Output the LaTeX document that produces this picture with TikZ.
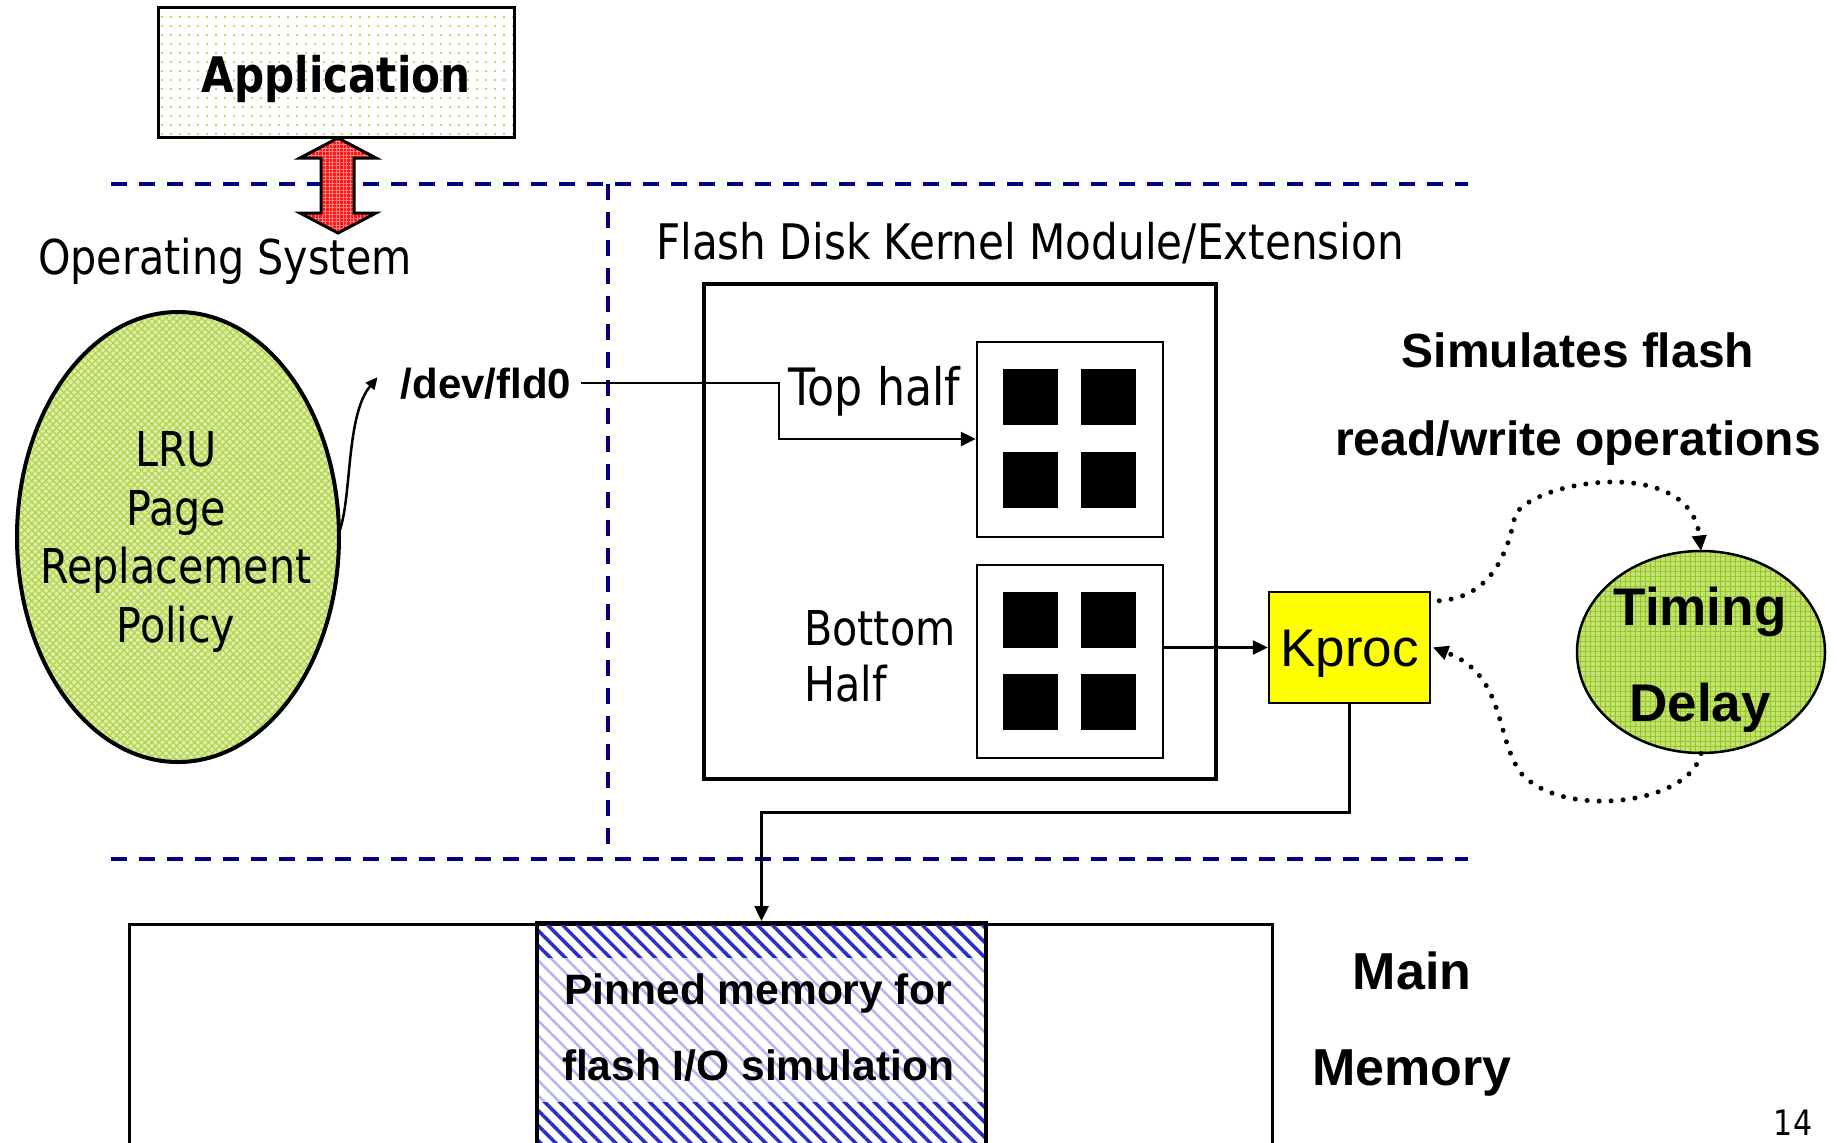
\documentclass[tikz,border=0pt]{standalone}
\usepackage{fontspec}
\usetikzlibrary{arrows.meta,patterns.meta,shapes.geometric}
\newfontfamily\tahfont{DejaVu Sans}[FakeStretch=0.86]
\newfontfamily\arifont{Liberation Sans}

\definecolor{sepblue}{RGB}{0,0,128}
\definecolor{appdot}{RGB}{165,208,55}
\definecolor{lrubase}{RGB}{222,238,168}
\definecolor{lruline}{RGB}{176,212,78}
\definecolor{tdbase}{RGB}{196,226,115}
\definecolor{tdline}{RGB}{148,198,35}
\definecolor{kpyellow}{RGB}{255,255,0}
\definecolor{hatchdark}{RGB}{45,45,200}
\definecolor{hatchlight}{RGB}{180,180,238}
\definecolor{arrred}{RGB}{255,20,20}
\definecolor{arrgrid}{RGB}{255,130,130}

\begin{document}
\begin{tikzpicture}[x=1bp,y=-1bp,
  tah/.style n args={2}{inner sep=0pt,font=\tahfont\fontsize{#1}{#2}\selectfont},
  tahb/.style n args={2}{inner sep=0pt,font=\tahfont\bfseries\fontsize{#1}{#2}\selectfont},
  ari/.style n args={2}{inner sep=0pt,font=\arifont\fontsize{#1}{#2}\selectfont},
  arib/.style n args={2}{inner sep=0pt,font=\arifont\bfseries\fontsize{#1}{#2}\selectfont},
  sepline/.style={draw=sepblue,line width=3.5bp,dash pattern=on 16bp off 12bp},
  plainbox/.style={draw,rectangle,inner sep=0pt},
  conn/.style={line width=2.5bp,-{Triangle[length=15bp,width=14bp]}},
  dotconn/.style={line width=5bp,dash pattern=on 0bp off 12bp,line cap=round,
    -{Triangle[length=15bp,width=15bp,line width=1bp]}},
]
\useasboundingbox (0,0) rectangle (1837,1142);
\clip (0,0) rectangle (1837,1142);
\fill[white] (0,0) rectangle (1837,1142);

% layer separators
\draw[sepline] (111,184) -- (1468,184);
\draw[sepline] (111,859) -- (1468,859);
\draw[sepline] (608,184) -- (608,846);

% application
\node[plainbox,line width=3bp,minimum width=355bp,minimum height=130bp,
  preaction={fill=white},pattern={Dots[distance=9bp,radius=1.1bp]},pattern color=appdot]
  (app) at (336.5,72) {};
\node[tahb={49bp}{49bp},anchor=base] (apptxt) at (336,92) {Application};

% system call double arrow
\filldraw[line width=3bp,line join=miter,preaction={fill=arrred},
  pattern={Hatch[distance=3.5bp,line width=0.5bp]},pattern color=arrgrid]
  (338,138) -- (376,158) -- (354,158) -- (354,213) -- (376,213) -- (338,233)
  -- (300,213) -- (321,213) -- (321,158) -- (300,158) -- cycle;

\node[tah={48bp}{48bp},anchor=base] (os) at (225,274) {Operating System};

% page replacement policy
\node[draw,ellipse,line width=4bp,minimum width=322bp,minimum height=450bp,
  preaction={fill=lrubase},pattern={Hatch[angle=45,distance=5bp,line width=1.2bp]},
  pattern color=lruline] (lru) at (178,537) {};
\node[tah={48bp}{58.5bp},align=center] (lrutxt) at (176,542) {LRU\\Page\\Replacement\\Policy};

\node[arib={42bp}{42bp},anchor=base] (dev) at (486,398) {/dev/fld0};

% flash disk kernel module
\node[tah={49bp}{49bp},anchor=base] (fdtitle) at (1030,259) {Flash Disk Kernel Module/Extension};
\node[plainbox,line width=4bp,minimum width=512bp,minimum height=495bp] (fd) at (960,531.5) {};
\node[plainbox,line width=2.5bp,minimum width=186bp,minimum height=195bp] (top) at (1070,439.5) {};
\node[plainbox,line width=2.5bp,minimum width=186bp,minimum height=193bp] (bot) at (1070,661.5) {};
\foreach \x in {1003,1081} \foreach \y in {369,452,592,674} \fill (\x,\y) rectangle ++(55,56);
\node[tah={51.5bp}{51.5bp},anchor=base west] (toptxt) at (788,405) {Top half};
\node[tah={48bp}{56bp},align=left,anchor=west] (bottxt) at (804,656) {Bottom\\Half};

% kernel process
\node[plainbox,fill=kpyellow,line width=2.5bp,minimum width=161bp,minimum height=111bp,
  font=\arifont\fontsize{53bp}{53bp}\selectfont,text height=38bp,text depth=0bp]
  (kp) at (1349.5,647.5) {Kproc};

% main memory
\node[plainbox,line width=3bp,minimum width=1143bp,minimum height=300bp,anchor=north west]
  (mm) at (128,923) {};
\fill[pattern={Lines[angle=-45,distance=10.6bp,line width=3.5bp]},pattern color=hatchdark]
  (537,921) rectangle (986,958);
\fill[white] (537,958) rectangle (986,1102);
\fill[pattern={Lines[angle=-45,distance=10.6bp,line width=2.5bp]},pattern color=hatchlight]
  (537,958) rectangle (986,1102);
\fill[pattern={Lines[angle=-45,distance=10.6bp,line width=3.5bp]},pattern color=hatchdark]
  (537,1102) rectangle (986,1160);
\node[plainbox,line width=4bp,minimum width=449bp,minimum height=260bp,anchor=north]
  (pin) at (761.5,921) {};
\node[arib={42.5bp}{76bp},align=center] (pintxt) at (758,1028) {Pinned memory for\\flash I/O simulation};
\node[arib={52bp}{96bp},align=center] (mmtxt) at (1412,1024) {Main\\Memory};

% timing model
\node[arib={48bp}{88bp},align=center] (simtxt) at (1578,399) {Simulates flash\\read/write operations};
\node[draw,ellipse,line width=2.5bp,minimum width=248bp,minimum height=202bp,
  preaction={fill=tdbase},pattern={Hatch[distance=5bp,line width=1bp]},pattern color=tdline]
  (td) at (1701,652) {};
\node[arib={53bp}{96bp},align=center] (tdtxt) at (1700,660) {Timing\\Delay};

% connectors
\draw[line width=2.5bp,-{Triangle[length=12bp,width=11bp]}]
  ([yshift=6bp]lru.east) .. controls (352,495) and (346,415) .. ([xshift=-23bp,yshift=6bp]dev.west);
\coordinate (bend) at (779,439);
\draw[conn] ([xshift=10bp]dev.east) -| (bend) -- (bend -| top.west);
\draw[conn] (bot.east |- kp.west) -- (kp.west);
\draw[conn] (kp.south) -- ++(0,108) -| (pin.north);
\draw[dotconn] ([xshift=8bp,yshift=-10bp]kp.north east) .. controls (1480,598) and (1505,570) .. (1515,515)
  .. controls (1535,480) and (1690,455) .. (td.north);
\draw[dotconn] (td.south) .. controls (1690,805) and (1560,820) .. (1520,772)
  .. controls (1495,735) and (1505,675) .. ([xshift=2bp]kp.east);

\node[tah={35bp}{35bp},anchor=base] (pageno) at (1793,1135) {14};
\end{tikzpicture}
\end{document}
